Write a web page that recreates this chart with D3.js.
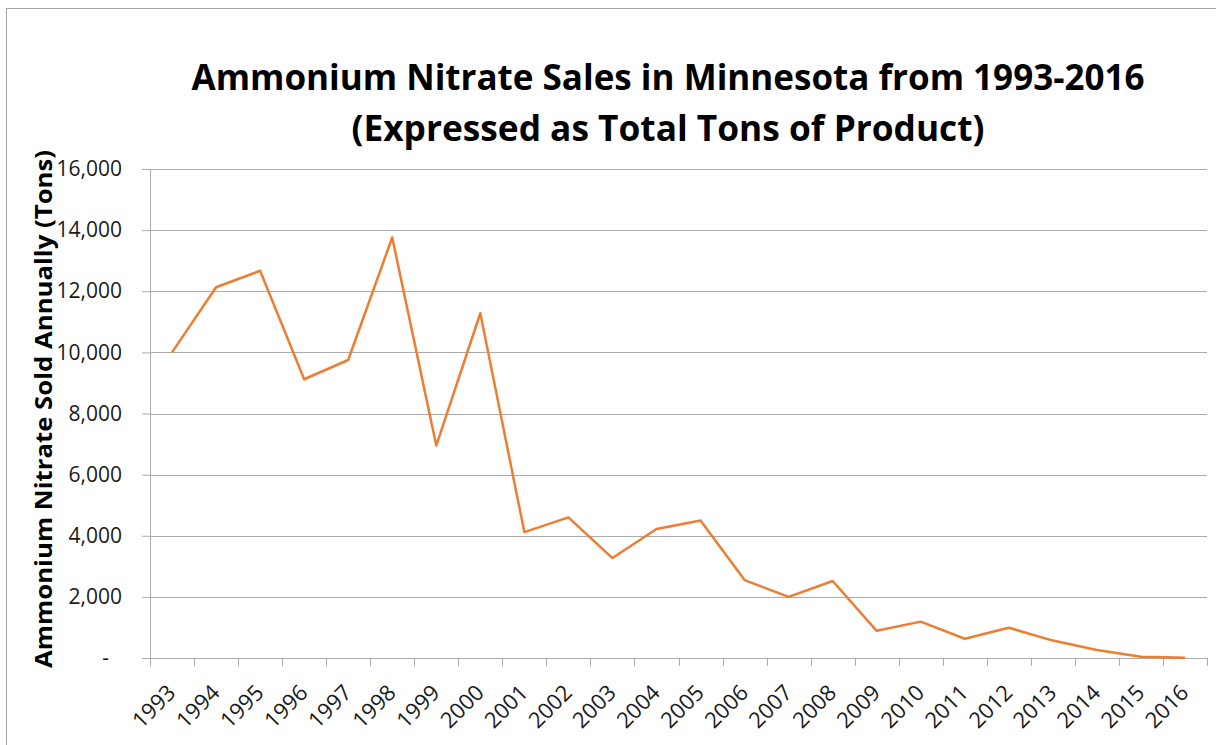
<!DOCTYPE html>
<html>
<head>
<meta charset="utf-8">
<script src="https://cdn.jsdelivr.net/npm/d3@7"></script>
<style>
  body { margin: 0; background: #fff; }
  svg { display: block; font-family: 'Open Sans', 'Liberation Sans', sans-serif; }
</style>
</head>
<body>
<div id="chart"></div>
<script>
// data
const years = ['1993', '1994', '1995', '1996', '1997', '1998', '1999', '2000', '2001', '2002', '2003', '2004',
  '2005', '2006', '2007', '2008', '2009', '2010', '2011', '2012', '2013', '2014', '2015', '2016']
const tons = [10000, 12130, 12670, 9120, 9750, 13760, 6950, 11280, 4120, 4600, 3270, 4220,
  4500, 2550, 2000, 2520, 890, 1190, 630, 990, 570, 260, 40, 10]
const yTicks = [0, 2000, 4000, 6000, 8000, 10000, 12000, 14000, 16000]

const W = 1216
const H = 745
const margin = { top: 169, right: 9, bottom: 87, left: 150 }
const width = W - margin.left - margin.right
const height = H - margin.top - margin.bottom
const gridColor = '#ababab'

const svg = d3.select('#chart').append('svg')
  .attr('width', W)
  .attr('height', H)

// chart frame
svg.append('rect')
  .attr('x', 6.5).attr('y', 8.5)
  .attr('width', W).attr('height', H)
  .attr('fill', 'none').attr('stroke', '#a6a6a6')

// title, squeezed to the width of the original
const titleLines = [
  { text: 'Ammonium Nitrate Sales in Minnesota from 1993-2016', y: 90, len: 953 },
  { text: '(Expressed as Total Tons of Product)', y: 141, len: 633 }
]
svg.selectAll('.title')
  .data(titleLines)
  .enter().append('text')
  .attr('class', 'title')
  .attr('x', 668)
  .attr('y', d => d.y)
  .attr('text-anchor', 'middle')
  .attr('font-size', 36)
  .attr('font-weight', 'bold')
  .attr('textLength', d => d.len)
  .attr('lengthAdjust', 'spacingAndGlyphs')
  .text(d => d.text)

const g = svg.append('g')
  .attr('transform', 'translate(' + margin.left + ',' + margin.top + ')')

const x = d3.scaleBand()
  .domain(years)
  .range([0, width])

const y = d3.scaleLinear()
  .domain([0, 16000])
  .range([height, 0])

// gridlines
g.selectAll('.grid')
  .data(yTicks.slice(1))
  .enter().append('line')
  .attr('class', 'grid')
  .attr('x1', 0).attr('x2', width)
  .attr('y1', d => Math.round(y(d)) + 0.5)
  .attr('y2', d => Math.round(y(d)) + 0.5)
  .attr('stroke', gridColor)

// y axis
const fmt = d => d === 0 ? '-' : d3.format(',')(d)
const yAxis = g.append('g')
  .call(d3.axisLeft(y).tickValues(yTicks).tickFormat(fmt).tickSize(8).tickPadding(20))
yAxis.select('.domain').attr('stroke', gridColor)
yAxis.selectAll('.tick line').attr('stroke', gridColor)
yAxis.selectAll('.tick text')
  .attr('font-size', 21)
  .attr('fill', '#1a1a1a')
  .attr('font-family', 'Open Sans, sans-serif')
  .attr('dx', d => d === 0 ? -13 : 0)

// x axis: ticks sit on category boundaries
const xAxis = g.append('g')
  .attr('transform', 'translate(0,' + height + ')')
xAxis.append('line')
  .attr('x1', -8).attr('x2', width)
  .attr('y1', 0.5).attr('y2', 0.5)
  .attr('stroke', gridColor)
xAxis.selectAll('.xtick')
  .data(years.concat(['end']))
  .enter().append('line')
  .attr('class', 'xtick')
  .attr('x1', (d, i) => Math.round(i * x.bandwidth()) + 0.5)
  .attr('x2', (d, i) => Math.round(i * x.bandwidth()) + 0.5)
  .attr('y1', 0).attr('y2', 8)
  .attr('stroke', gridColor)
xAxis.selectAll('.xlabel')
  .data(years)
  .enter().append('text')
  .attr('class', 'xlabel')
  .attr('transform', d => 'translate(' + (x(d) + x.bandwidth() / 2 + 5) + ',' + 36 + ') rotate(-45)')
  .attr('text-anchor', 'end')
  .attr('font-size', 22)
  .attr('fill', '#1a1a1a')
  .text(d => d)

// y axis title
svg.append('text')
  .attr('transform', 'translate(52,409) rotate(-90)')
  .attr('text-anchor', 'middle')
  .attr('font-size', 24)
  .attr('font-weight', 'bold')
  .attr('textLength', 518)
  .attr('lengthAdjust', 'spacingAndGlyphs')
  .text('Ammonium Nitrate Sold Annually (Tons)')

// the line
const line = d3.line()
  .x((d, i) => x(years[i]) + x.bandwidth() / 2)
  .y(d => y(d))
g.append('path')
  .datum(tons)
  .attr('d', line)
  .attr('fill', 'none')
  .attr('stroke', '#ed7d31')
  .attr('stroke-width', 2.5)
  .attr('stroke-linejoin', 'round')
</script>
</body>
</html>
